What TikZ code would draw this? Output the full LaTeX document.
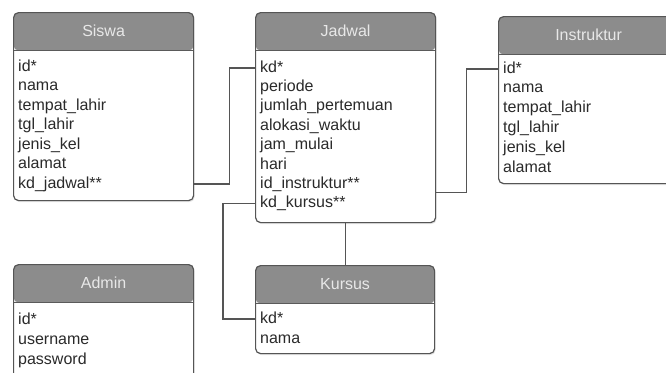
\documentclass[tikz,border=0pt]{standalone}
\usepackage{fontspec}
\setmainfont{Liberation Sans}
\usetikzlibrary{calc,shadows}
\definecolor{bord}{HTML}{555555}
\definecolor{hdr}{HTML}{8C8C8C}
\definecolor{htxt}{HTML}{E8E8E8}
\definecolor{txt}{HTML}{2A2A2A}
\definecolor{sepc}{HTML}{5A5A5A}
\tikzset{
  tbl/.style={draw=bord, line width=1.2pt, fill=white, rounded corners=5pt,
    anchor=north west, inner sep=0pt, minimum width=180pt,
    drop shadow={opacity=0.2, shadow xshift=1pt, shadow yshift=-1.5pt},
    path picture={
      \fill[hdr] (path picture bounding box.north west) rectangle ([yshift=-38pt]path picture bounding box.north east);
      \draw[sepc, line width=1.4pt] ([yshift=-38pt]path picture bounding box.north west) -- ([yshift=-38pt]path picture bounding box.north east);
    }},
  ttl/.style={inner sep=0pt, text=htxt, font=\fontsize{16}{19}\selectfont},
  row/.style={anchor=west, inner sep=0pt, text=txt, font=\fontsize{16}{19}\selectfont, text height=11.5pt, text depth=3.5pt},
  conn/.style={draw=bord, line width=1.3pt}
}
\begin{document}
\begin{tikzpicture}[x=1pt, y=-1pt]
\clip (0,0) rectangle (666,372);
\fill[white] (0,0) rectangle (666,372);
% tables
\node[tbl, minimum height=188pt] (siswa) at (13,12) {};
\node[tbl, minimum height=210pt] (jadwal) at (255,12) {};
\node[tbl, minimum height=167pt] (instr) at (498,16) {};
\node[tbl, minimum height=88pt, minimum width=179pt] (kursus) at (255,265) {};
\node[tbl, minimum height=130pt] (admin) at (13,264) {};
% titles
\node[ttl] (siswa-t) at ($(siswa.north)+(0,19)$) {Siswa};
\node[ttl] (jadwal-t) at ($(jadwal.north)+(0,19)$) {Jadwal};
\node[ttl] (instr-t) at ($(instr.north)+(0,19)$) {Instruktur};
\node[ttl] (kursus-t) at ($(kursus.north)+(0,19)$) {Kursus};
\node[ttl] (admin-t) at ($(admin.north)+(0,19)$) {Admin};
% rows
\foreach \t [count=\i] in {id*, nama, tempat\_lahir, tgl\_lahir, jenis\_kel, alamat, kd\_jadwal**}
  \node[row] (s\i) at (18, {67+19.5*(\i-1)}) {\t};
\foreach \t [count=\i] in {kd*, periode, jumlah\_pertemuan, alokasi\_waktu, jam\_mulai, hari, id\_instruktur**, kd\_kursus**}
  \node[row] (j\i) at (260, {68+19.4*(\i-1)}) {\t};
\foreach \t [count=\i] in {id*, nama, tempat\_lahir, tgl\_lahir, jenis\_kel, alamat}
  \node[row] (i\i) at (503, {69+19.8*(\i-1)}) {\t};
\foreach \t [count=\i] in {kd*, nama}
  \node[row] (k\i) at (260, {319+20.7*(\i-1)}) {\t};
\foreach \t [count=\i] in {id*, username, password}
  \node[row] (a\i) at (18, {320+20*(\i-1)}) {\t};
% connectors
\draw[conn] (s7 -| siswa.east) -- ++(35,0) |- (j1 -| jadwal.west);
\draw[conn] ($(j7 -| jadwal.east)+(0,8)$) -- ++(30,0) |- (i1 -| instr.west);
\draw[conn] (j8 -| jadwal.west) -- ++(-32,0) |- (k1 -| kursus.west);
\draw[conn] (jadwal.south) -- (jadwal.south |- kursus.north);
\end{tikzpicture}
\end{document}
